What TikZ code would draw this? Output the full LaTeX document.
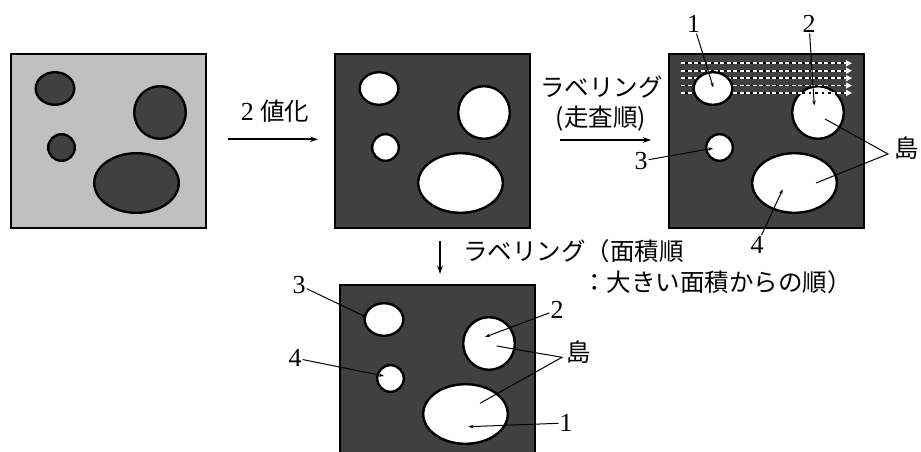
\documentclass[tikz,border=0pt]{standalone}
\usepackage{fontspec}
\setmainfont{Liberation Serif}
\newfontfamily\jp{Noto Sans CJK JP}
\usetikzlibrary{shapes.geometric,arrows.meta}
\definecolor{dk}{HTML}{404040}
\definecolor{lt}{HTML}{C0C0C0}
\newcommand\jt[1]{{\fontsize{24.5}{28}\jp #1}}
\newcommand\mypanel[6]{%
  \begin{scope}[shift={(#2,#3)}]
    \node[panelbox,fill=#4] (#1) at (0,0) {};
    \node[isl,fill=#5,minimum width=51.6pt,minimum height=52.6pt] (#1b) at (150,59.5) {};
    \node[isl,fill=#5,minimum width=26.6pt,minimum height=26.6pt] (#1c) at (51.5,94.5) {};
    \node[isl,fill=#5,minimum width=84.6pt,minimum height=59.6pt] (#1d) at (126.5,130) {};
    #6
    \node[isl,fill=#5,minimum width=38.6pt,minimum height=32.6pt] (#1a) at (45,35.5) {};
  \end{scope}}
\begin{document}
\begin{tikzpicture}[x=1pt,y=-1pt,
  panelbox/.style={draw=black,line width=2.4pt,minimum width=195pt,minimum height=174pt,inner sep=0pt,anchor=north west},
  isl/.style={ellipse,draw=black,line width=2.4pt,inner sep=0pt},
  lbl/.style={font=\fontsize{26}{30}\selectfont,inner sep=1pt},
  jtxt/.style={font=\fontsize{24.5}{28}\jp,inner sep=0pt},
  ptr/.style={line width=1pt,-{Stealth[length=5pt,width=3.5pt]}},
  plainln/.style={line width=1pt},
  bigarrow/.style={line width=2pt,-{Stealth[length=8pt,width=5.5pt]}}]
\useasboundingbox (0,0) rectangle (921,452);
\path[clip] (0,0) rectangle (921,452);
% panels
\mypanel{p1}{10}{53}{lt}{dk}{}
\mypanel{p2}{334}{53}{dk}{white}{}
\mypanel{p3}{668}{53}{dk}{white}{%
  \foreach \yy in {10.3,17.7,25.1,32.5,39.9}{%
    \draw[black,line width=1.8pt] (13,\yy) -- (178,\yy);
    \draw[white,line width=1.8pt,dash pattern=on 4pt off 2.5pt,-{Triangle[length=6pt,width=6pt]}] (13,\yy) -- (184,\yy);
  }}
\mypanel{p4}{339}{284}{dk}{white}{}
% arrow 1
\coordinate (a1s) at (228,139.3);
\coordinate (a1e) at (318,139.3);
\draw[bigarrow] (a1s) -- (a1e);
\node[lbl] (bin) at (275,111) {2 \jt{値化}};
% arrow 2
\coordinate (a2s) at (560,140);
\coordinate (a2e) at (651,140);
\draw[bigarrow] (a2s) -- (a2e);
\node[jtxt] (lab3a) at (601.5,87) {ラベリング};
\node[jtxt] (lab3b) at (601,119) {(走査順)};
% arrow 3
\coordinate (a3s) at (440,241);
\coordinate (a3e) at (440,274);
\draw[bigarrow] (a3s) -- (a3e);
\node[jtxt,anchor=west] (lab4a) at (463,251) {ラベリング（面積順};
\node[jtxt,anchor=west] (lab4b) at (582,282) {：大きい面積からの順）};
% panel 3 labels
\node[lbl] (n31) at (693.5,24) {1};
\node[lbl] (n32) at (809,24) {2};
\node[lbl] (n33) at (641,161) {3};
\node[lbl] (n34) at (757,245) {4};
\node[jtxt] (s3) at (907,148) {島};
\coordinate (t31) at (713.3,87.5);
\coordinate (t32) at (814.3,105.5);
\coordinate (t33) at (713,148.3);
\coordinate (t34) at (782.7,189.3);
\coordinate (v3) at (888,154);
\coordinate (i3b) at (825,119);
\coordinate (i3d) at (816,183);
\draw[ptr] (n31) -- (t31);
\draw[ptr] (n32) -- (t32);
\draw[ptr] (n33) -- (t33);
\draw[ptr] (n34) -- (t34);
\draw[plainln] (i3b) -- (v3) -- (i3d);
% panel 4 labels
\node[lbl] (n43) at (299,285) {3};
\node[lbl] (n44) at (295,358) {4};
\node[lbl] (n42) at (557,310) {2};
\node[lbl] (n41) at (566,423) {1};
\node[jtxt] (s4) at (579,352) {島};
\coordinate (t43) at (367,317.5);
\coordinate (t44) at (384,376);
\coordinate (t42) at (485,337);
\coordinate (t41) at (468.3,426.7);
\coordinate (v4) at (562,357.3);
\coordinate (i4b) at (496.7,346);
\coordinate (i4d) at (480,403.3);
\draw[ptr] (n43) -- (t43);
\draw[ptr] (n44) -- (t44);
\draw[ptr] (n42) -- (t42);
\draw[ptr] (n41) -- (t41);
\draw[plainln] (i4b) -- (v4) -- (i4d);
\end{tikzpicture}
\end{document}
